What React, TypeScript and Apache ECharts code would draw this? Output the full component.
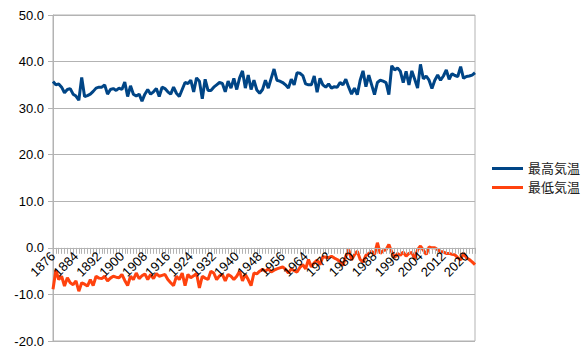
import React, { useEffect, useRef } from "react";
import * as echarts from "echarts";

const START_YEAR = 1876;
const END_YEAR = 2023;
const years: string[] = [];
for (let y = START_YEAR; y <= END_YEAR; y++) years.push(String(y));

const maxTemp: number[] = [
  35.7, 35.0, 35.2, 34.5, 33.3, 34.0, 34.2, 33.0, 32.6, 31.7,
  36.6, 32.5, 32.7, 33.0, 33.6, 34.3, 34.5, 34.5, 35.0, 33.0,
  34.0, 34.2, 33.8, 34.3, 34.0, 35.6, 32.5, 34.8, 33.0, 32.6,
  33.0, 31.5, 33.0, 34.0, 33.0, 33.5, 34.2, 32.5, 34.5, 34.2,
  33.5, 33.0, 34.5, 33.2, 32.5, 34.0, 35.5, 35.3, 36.0, 33.5,
  36.5, 35.8, 32.0, 36.2, 33.8, 33.8, 34.5, 35.0, 35.5, 35.3,
  33.5, 35.8, 34.3, 36.4, 34.0, 36.5, 38.0, 34.3, 37.1, 34.0,
  36.0, 33.9, 33.2, 34.0, 36.0, 34.3, 36.4, 38.4, 36.0, 35.8,
  35.5, 35.0, 34.3, 36.2, 35.0, 37.6, 37.5, 37.0, 35.2, 35.0,
  35.0, 36.9, 33.4, 36.4, 35.0, 34.5, 35.2, 34.3, 34.6, 34.5,
  35.5, 35.0, 36.2, 34.5, 33.0, 34.3, 32.9, 36.0, 38.0, 34.6,
  37.1, 35.0, 32.9, 35.5, 36.0, 35.8, 35.5, 32.9, 39.1, 38.2,
  38.6, 37.9, 35.5, 37.9, 35.0, 38.0, 36.2, 34.3, 39.4, 36.3,
  36.9, 36.0, 34.2, 36.0, 37.1, 36.0, 36.9, 38.2, 36.2, 37.4,
  37.0, 36.8, 38.9, 36.4, 36.8, 36.9, 37.1, 37.6,
];

const minTemp: number[] = [
  -8.9, -4.8, -6.8, -6.1, -8.2, -6.4, -7.5, -7.9, -7.1, -9.3,
  -7.5, -7.8, -8.2, -6.8, -8.1, -6.1, -6.5, -6.6, -6.1, -7.1,
  -6.5, -6.1, -6.3, -6.4, -5.7, -7.0, -8.1, -6.1, -6.8, -5.4,
  -6.6, -6.0, -5.6, -6.8, -5.7, -6.6, -5.5, -6.1, -5.9, -5.7,
  -6.8, -7.5, -8.1, -6.1, -6.8, -5.4, -8.1, -5.7, -6.4, -6.0,
  -5.5, -8.6, -6.1, -6.5, -6.8, -5.0, -5.4, -6.8, -6.0, -5.7,
  -7.1, -5.7, -6.1, -6.8, -6.1, -5.0, -7.1, -5.7, -6.8, -8.1,
  -5.4, -5.6, -5.0, -4.6, -5.0, -4.5, -5.2, -4.8, -4.5, -4.3,
  -4.1, -4.6, -5.4, -4.5, -4.9, -5.2, -4.2, -3.6, -4.5, -2.5,
  -4.1, -3.2, -2.6, -3.6, -1.9, -2.0, -2.1, -1.8, -2.2, -2.5,
  -3.0, -3.8, -1.8, -0.4, -2.6, -1.5, -0.7, -2.5, -3.1, -1.6,
  -1.2, -0.7, -1.4, 1.1, -1.2, -0.6, -0.4, 0.7, -0.9, -2.1,
  -1.2, -1.6, -0.9, -1.8, -1.2, -1.0, -2.4, -0.4, 0.4, -0.5,
  -1.4, 0.2, 0.0, 0.0, -0.4, -0.8, -0.9, -1.2, -1.2, -1.4,
  -1.5, -2.1, -2.6, -1.1, -2.1, -2.5, -3.0, -3.6,
];

const seriesNames = ["最高気温", "最低気温"];
const seriesColors = ["#004586", "#ff420e"];

const FONT = '"Liberation Sans", "Noto Sans CJK JP", sans-serif';
const GRID_COLOR = "#b3b3b3";

const Y_MIN = -20;
const Y_MAX = 50;
const GRID_TOP = 15;
const GRID_BOTTOM = 16;
const CHART_H = 357;

export default function App() {
  const ref = useRef<HTMLDivElement>(null);
  useEffect(() => {
    document.body.style.margin = "0";
    if (!ref.current) return;
    const chart = echarts.init(ref.current, null, { renderer: "svg" });
    const plotH = CHART_H - GRID_TOP - GRID_BOTTOM;
    const zeroOffset = -(plotH * (0 - Y_MIN)) / (Y_MAX - Y_MIN);
    chart.setOption({
      animation: false,
      textStyle: { fontFamily: FONT },
      grid: {
        left: 53,
        right: 111,
        top: GRID_TOP,
        bottom: GRID_BOTTOM,
        show: true,
        borderColor: GRID_COLOR,
        borderWidth: 1,
        containLabel: false,
      },
      legend: {
        orient: "vertical",
        left: 492,
        top: 162,
        padding: 0,
        icon: "rect",
        itemWidth: 31,
        itemHeight: 3,
        itemGap: 6,
        textStyle: { fontFamily: FONT, fontSize: 13, color: "#222" },
        data: seriesNames,
      },
      xAxis: {
        type: "category",
        data: years,
        boundaryGap: false,
        position: "bottom",
        offset: zeroOffset,
        z: 5,
        axisLine: { onZero: false, lineStyle: { color: GRID_COLOR, width: 1 } },
        axisTick: {
          show: true,
          interval: 0,
          length: 6,
          lineStyle: { color: GRID_COLOR },
        },
        axisLabel: {
          interval: 7,
          rotate: 45,
          margin: 6,
          fontFamily: FONT,
          fontSize: 13,
          color: "#000",
        },
        splitLine: { show: false },
      },
      yAxis: {
        type: "value",
        min: Y_MIN,
        max: Y_MAX,
        interval: 10,
        axisLine: { show: true, lineStyle: { color: GRID_COLOR } },
        axisTick: { show: true, length: 5, lineStyle: { color: GRID_COLOR } },
        axisLabel: {
          formatter: (v: number) => v.toFixed(1),
          fontFamily: FONT,
          fontSize: 13,
          color: "#000",
          margin: 9,
        },
        splitLine: { lineStyle: { color: GRID_COLOR, width: 1 } },
      },
      series: [
        {
          name: seriesNames[0],
          type: "line",
          data: maxTemp,
          symbol: "none",
          z: 2,
          lineStyle: { color: seriesColors[0], width: 3 },
          itemStyle: { color: seriesColors[0] },
        },
        {
          name: seriesNames[1],
          type: "line",
          data: minTemp,
          symbol: "none",
          z: 2,
          lineStyle: { color: seriesColors[1], width: 3 },
          itemStyle: { color: seriesColors[1] },
        },
      ],
    });
    return () => chart.dispose();
  }, []);
  return <div ref={ref} style={{ width: 586, height: 357 }} />;
}
